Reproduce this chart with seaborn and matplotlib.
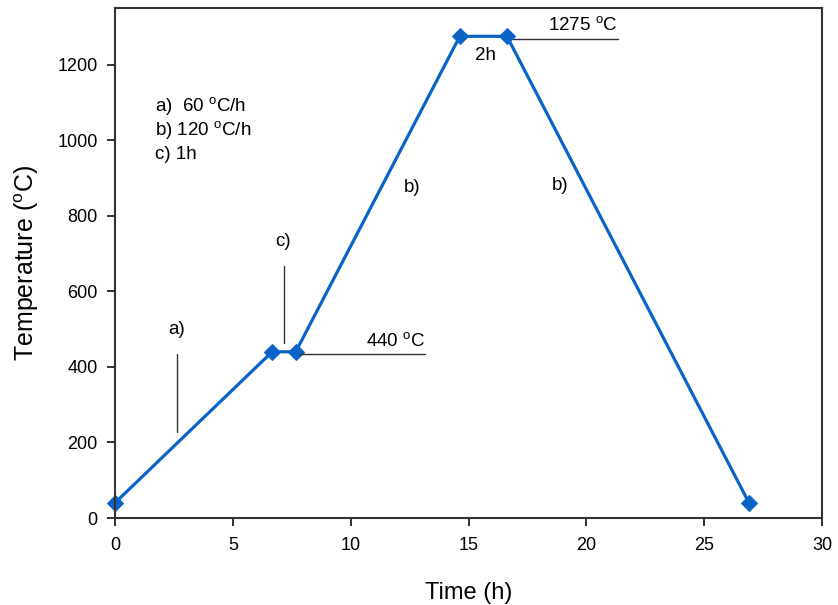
import matplotlib
matplotlib.use("Agg")
import matplotlib.pyplot as plt
import seaborn as sns
import pandas as pd

# Heat-treatment schedule: time (h) vs temperature (°C)
time_h = [0, 6.67, 7.67, 14.63, 16.63, 26.9]
temp_c = [40, 440, 440, 1275, 1275, 40]

sns.set_style("ticks")
plt.rcParams["font.family"] = ["Liberation Sans", "DejaVu Sans"]
plt.rcParams["mathtext.fontset"] = "custom"
plt.rcParams["mathtext.rm"] = "Liberation Sans"
plt.rcParams["mathtext.it"] = "Liberation Sans:italic"
plt.rcParams["text.color"] = "black"
plt.rcParams["axes.labelcolor"] = "black"
plt.rcParams["xtick.color"] = "black"
plt.rcParams["ytick.color"] = "black"

df = pd.DataFrame({"Time (h)": time_h, "Temperature": temp_c})

fig = plt.figure(figsize=(8.38, 6.05), dpi=100)
ax = fig.add_axes([0.1372, 0.1438, 0.8438, 0.843])

blue = "#0A64C8"
sns.lineplot(data=df, x="Time (h)", y="Temperature", sort=False, ax=ax,
             color=blue, linewidth=2.3, marker="D", markersize=8,
             markeredgecolor=blue, markerfacecolor=blue)

ax.set_xlim(0, 30)
ax.set_ylim(0, 1350)
ax.set_xticks(range(0, 31, 5))
ax.set_yticks(range(0, 1201, 200))
ax.tick_params(direction="out", length=5.5, width=1.3, labelsize=13, color="#222222")
ax.tick_params(axis="x", pad=8.5)
ax.tick_params(axis="y", pad=7)
for s in ax.spines.values():
    s.set_visible(True)
    s.set_linewidth(1.5)
    s.set_color("#333333")
for line in ax.lines:
    line.set_clip_on(False)

ax.set_xlabel("Time (h)", fontsize=17, labelpad=20)
ax.set_ylabel(r"Temperature ($^{\mathrm{o}}$C)", fontsize=18, labelpad=12)

ann = dict(fontsize=13.5, color="black")
deg = r"$^{\mathrm{o}}$"

# Rate legend
ax.text(1.7, 1091, "a)  60 " + deg + "C/h", va="center", ha="left", **ann)
ax.text(1.7, 1027, "b) 120 " + deg + "C/h", va="center", ha="left", **ann)
ax.text(1.7, 961, "c) 1h", va="center", ha="left", **ann)

# Segment labels and leader lines
ax.text(2.6, 499, "a)", ha="center", va="center", **ann)
ax.plot([2.63, 2.63], [228, 433], color="#333333", lw=1)
ax.text(7.13, 733, "c)", ha="center", va="center", **ann)
ax.plot([7.17, 7.17], [464, 666], color="#333333", lw=1)
ax.text(12.6, 876, "b)", ha="center", va="center", **ann)
ax.text(18.9, 881, "b)", ha="center", va="center", **ann)
ax.text(15.7, 1224, "2h", ha="center", va="center", **ann)

ax.plot([7.85, 13.15], [435, 435], color="#333333", lw=1)
ax.text(13.15, 446, "440 " + deg + "C", ha="right", va="bottom", **ann)
ax.plot([16.9, 21.35], [1269, 1269], color="#333333", lw=1)
ax.text(21.35, 1280, "1275 " + deg + "C", ha="right", va="bottom", **ann)

fig.savefig("out.png", dpi=100)
